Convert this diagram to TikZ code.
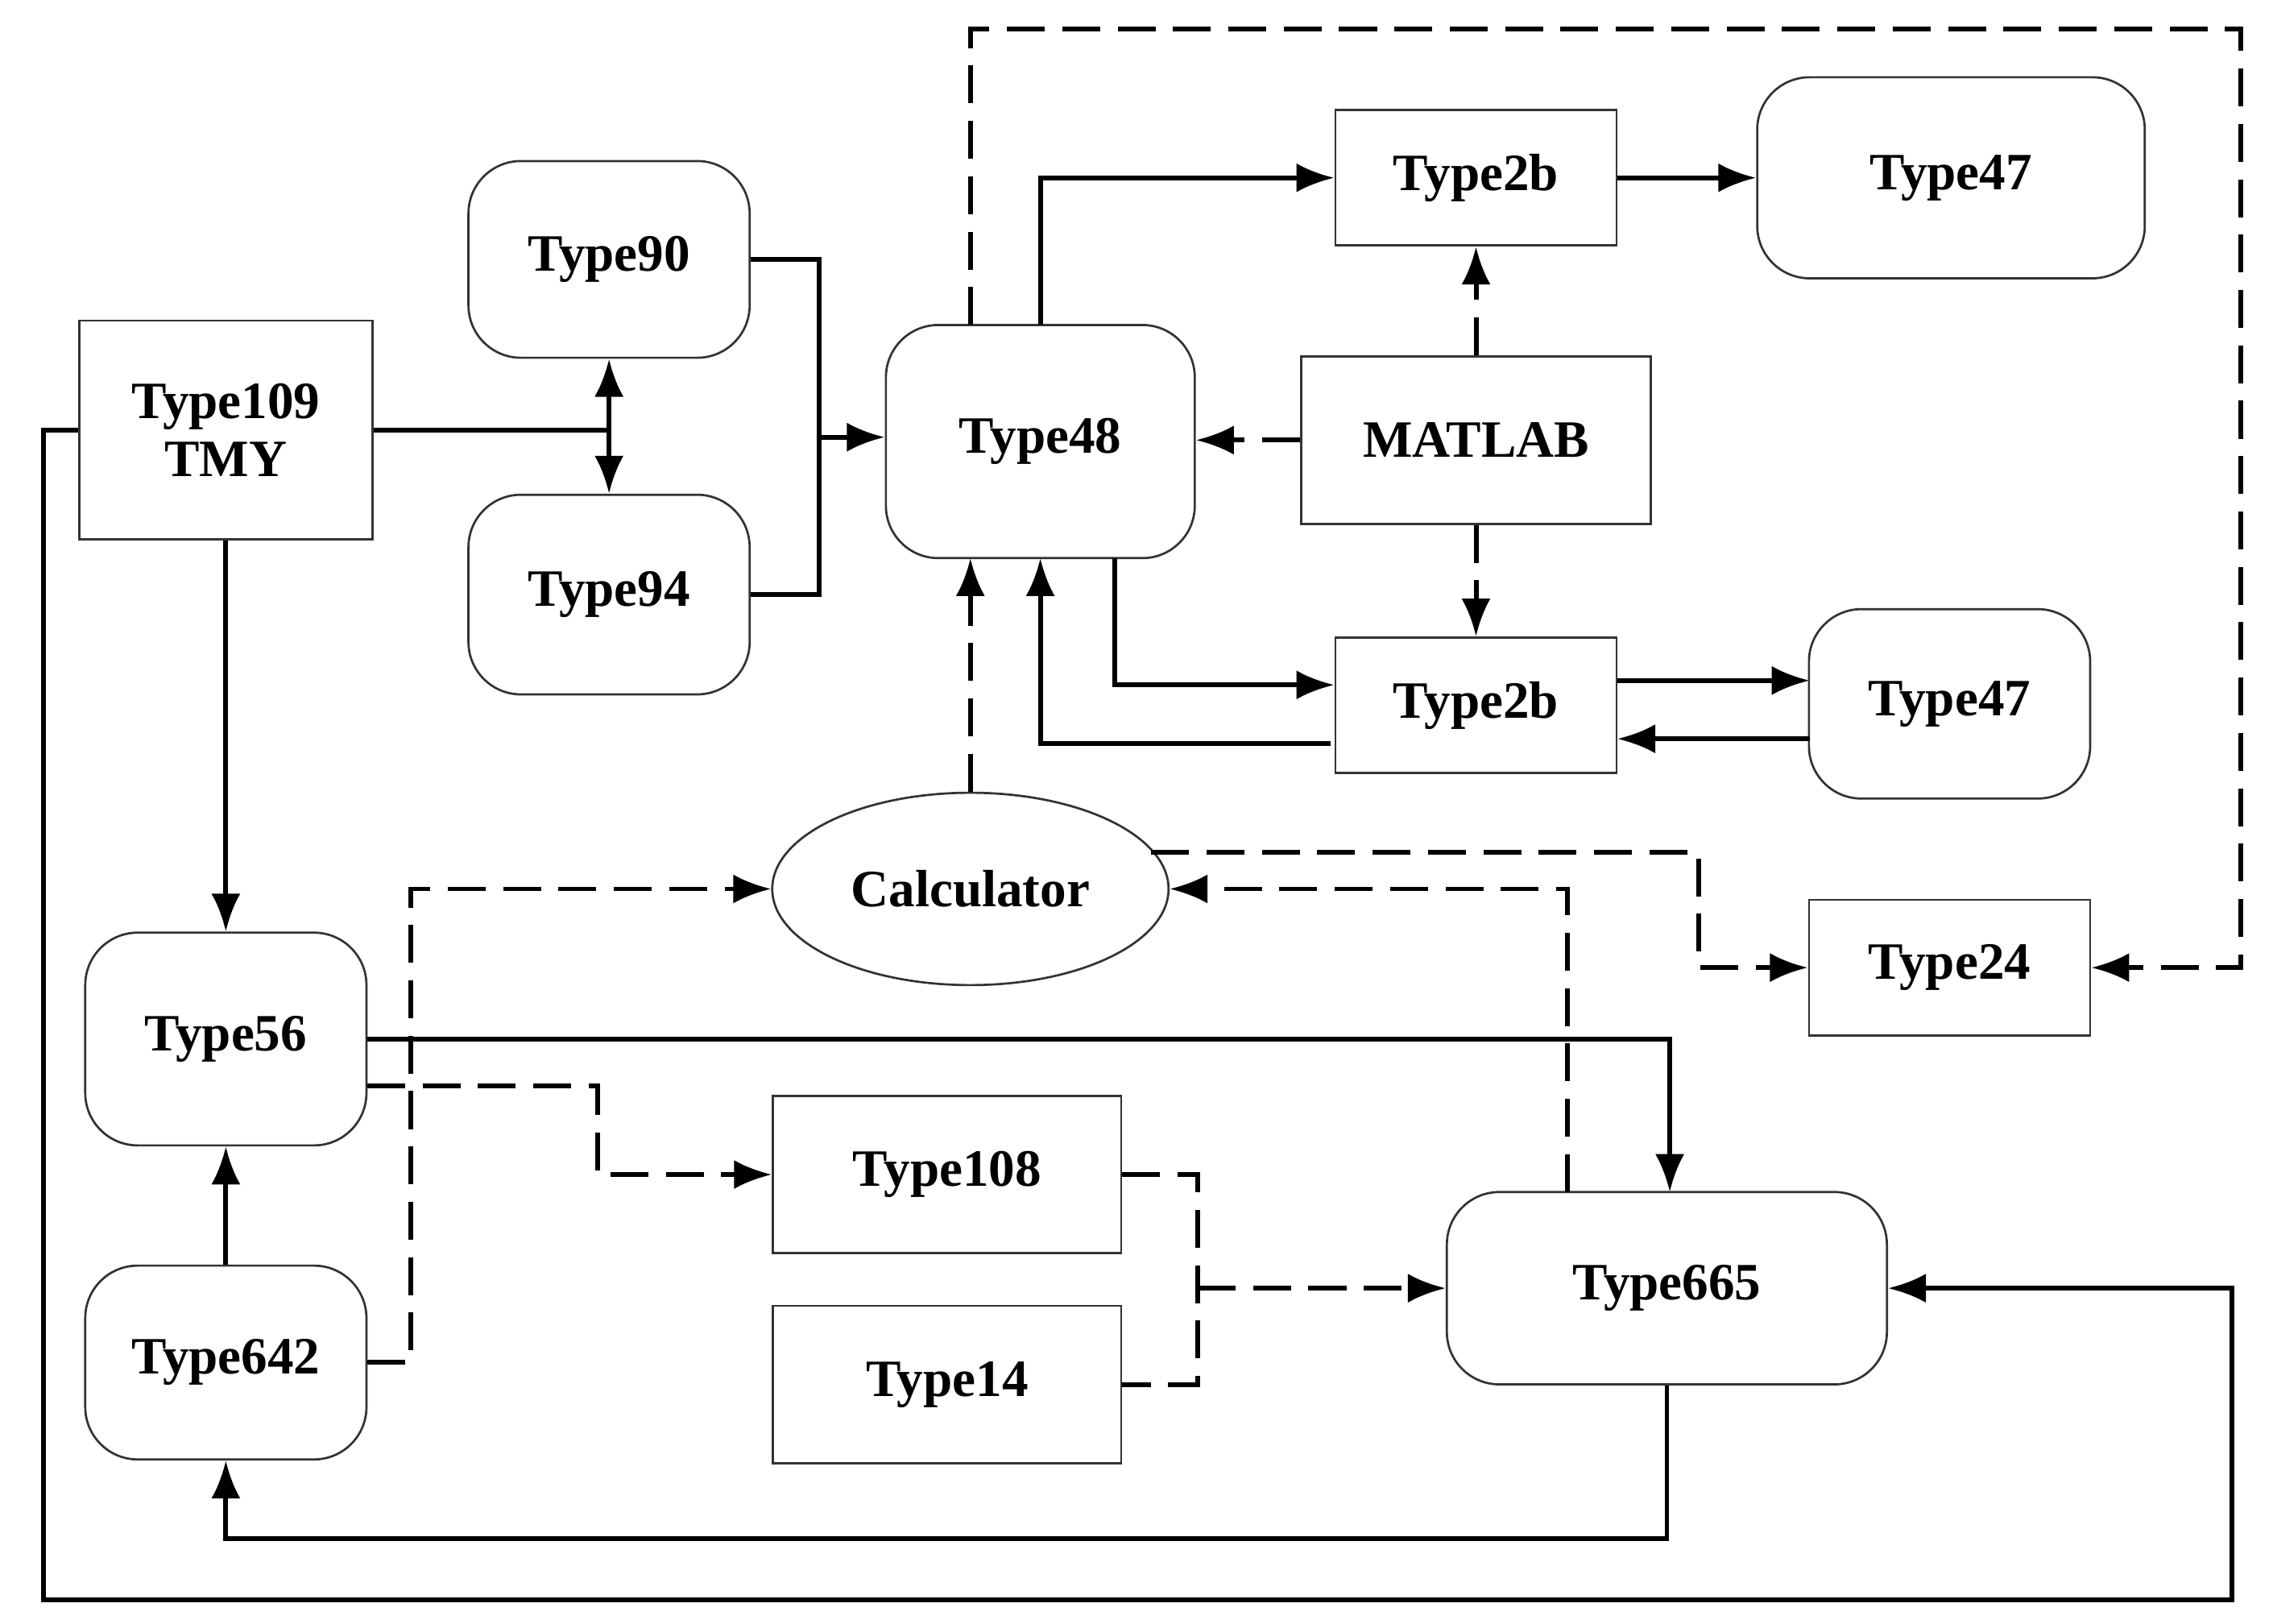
\documentclass[tikz,border=0pt]{standalone}
\usepackage{fontspec}
\setmainfont{Liberation Serif}
\usetikzlibrary{arrows.meta,shapes.geometric,calc}
\begin{document}
\begin{tikzpicture}[x=1pt,y=-1pt,
 box/.style={draw=black!80,line width=1.5pt,rectangle,align=center,font=\fontsize{36}{40}\selectfont\bfseries,inner sep=0pt},
 rbox/.style={box,rounded corners=36pt},
 ln/.style={line width=3.3pt},
 ar/.style={ln,-{Latex[length=26pt,width=20pt]}},
 dl/.style={ln,dash pattern=on 26pt off 12pt},
 da/.style={ar,dash pattern=on 26pt off 12pt}]
\useasboundingbox (0,0) rectangle (1560,1114);
\node[box,minimum width=201pt,minimum height=150pt] (t109) at (155,295) {Type109\\TMY};
\node[rbox,minimum width=193pt,minimum height=135pt] (t90) at (418,178) {Type90};
\node[rbox,minimum width=193pt,minimum height=137pt] (t94) at (418,408) {Type94};
\node[rbox,minimum width=212pt,minimum height=160pt] (t48) at (714,303) {Type48};
\node[box,minimum width=193pt,minimum height=93pt] (t2a) at (1013,122) {Type2b};
\node[rbox,minimum width=266pt,minimum height=138pt] (t47a) at (1339,122) {Type47};
\node[box,minimum width=240pt,minimum height=115pt] (mat) at (1013,302) {MATLAB};
\node[box,minimum width=193pt,minimum height=93pt] (t2b) at (1013,484) {Type2b};
\node[rbox,minimum width=193pt,minimum height=130pt] (t47b) at (1338,483) {Type47};
\node[box,ellipse,minimum width=272pt,minimum height=132pt] (calc) at (666,610) {Calculator};
\node[box,minimum width=193pt,minimum height=93pt] (t24) at (1338,664) {Type24};
\node[rbox,minimum width=193pt,minimum height=146pt] (t56) at (155,713) {Type56};
\node[rbox,minimum width=193pt,minimum height=133pt] (t642) at (155,935) {Type642};
\node[box,minimum width=239pt,minimum height=108pt] (t108) at (650,806) {Type108};
\node[box,minimum width=239pt,minimum height=108pt] (t14) at (650,950) {Type14};
\node[rbox,minimum width=302pt,minimum height=132pt] (t665) at (1144,884) {Type665};
% solid
\draw[ln] (t109.east) -- (418,295);
\draw[ln,{Latex[length=26pt,width=20pt]}-{Latex[length=26pt,width=20pt]}] (t90.south) -- (t94.north);
\draw[ln] (t90.east) -- (562,178) -- (562,408) -- (t94.east);
\draw[ar] (562,300) -- (t48.west|-562,300);
\draw[ar] (714,223) -- (714,122) -- (t2a.west);
\draw[ar] (t2a.east) -- (t47a.west);
\draw[ar] (765,383) -- (765,470) -- (t2b.west|-765,470);
\draw[ar] (913,510) -- (714,510) -- (714,383);
\draw[ar] (1110,467) -- (1242,467);
\draw[ar] (1242,507) -- (1110,507);
\draw[ar] (t109.south) -- (t56.north);
\draw[ar] (t642.north) -- (t56.south);
\draw[ar] (252,713) -- (1146,713) -- (1146,818);
\draw[ar] (t665.south) -- (1144,1056) -- (155,1056) -- (t642.south);
\draw[ar] (t109.west) -- (30,295) -- (30,1098) -- (1532,1098) -- (1532,884) -- (t665.east);
% dashed
\draw[da] (mat.north) -- (t2a.south);
\draw[da] (mat.west) -- (t48.east|-mat.west);
\draw[da] (mat.south) -- (t2b.north);
\draw[da] (666,223) -- (666,20) -- (1538,20) -- (1538,664) -- (t24.east);
\draw[da] (calc.north) -- (666,383);
\draw[da] (790,585) -- (1166,585) -- (1166,664) -- (t24.west);
\draw[da] (1076,818) -- (1076,610) -- (calc.east);
\draw[da] (t642.east) -- (282,935) -- (282,610) -- (calc.west);
\draw[da] (252,745) -- (410,745) -- (410,806) -- (t108.west);
\draw[dl] (t108.east) -- (822,806) -- (822,950) -- (t14.east);
\draw[da] (822,884) -- (t665.west);
\end{tikzpicture}
\end{document}
